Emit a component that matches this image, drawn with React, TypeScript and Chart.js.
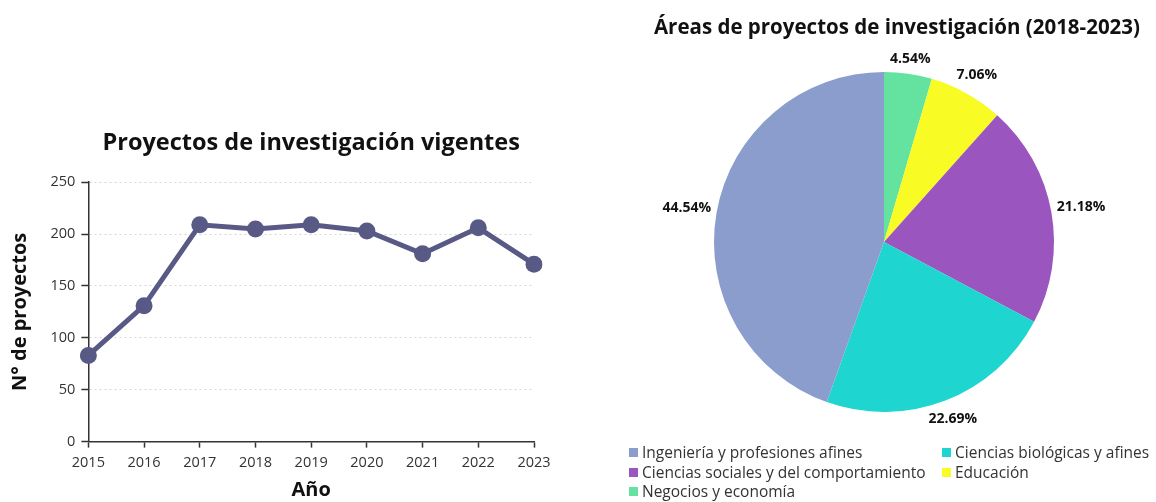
import React, { useEffect, useRef } from 'react';
import { Chart, registerables } from 'chart.js';

Chart.register(...registerables);

// ---- Data: line chart ----
const years = ['2015', '2016', '2017', '2018', '2019', '2020', '2021', '2022', '2023'];
const proyectos = [83, 131, 209, 205, 209, 203, 181, 206, 171];
const yMin = 0;
const yMax = 250;
const yStep = 50;

// ---- Data: pie chart (clockwise from 12 o'clock) ----
const areaLabels = [
  'Negocios y economía',
  'Educación',
  'Ciencias sociales y del comportamiento',
  'Ciencias biológicas y afines',
  'Ingeniería y profesiones afines',
];
const areaValues = [4.54, 7.06, 21.18, 22.69, 44.54];
const legendOrder = [4, 3, 2, 1, 0];

// ---- Styles ----
const areaColors = ['#64e2a0', '#f9fc24', '#9a55be', '#1fd5d0', '#8b9dcd'];
const LINE = '#585a85';
const FONT = "'Open Sans', 'Noto Sans', sans-serif";

const pctLabelPlugin = {
  id: 'pctLabels',
  afterDatasetsDraw(chart: any) {
    const meta = chart.getDatasetMeta(0);
    const ctx = chart.ctx;
    ctx.save();
    ctx.font = `bold 14px ${FONT}`;
    ctx.fillStyle = '#111';
    ctx.textAlign = 'center';
    ctx.textBaseline = 'middle';
    meta.data.forEach((arc: any, i: number) => {
      const { x, y, startAngle, endAngle, outerRadius } = arc;
      const mid = (startAngle + endAngle) / 2;
      const dx = Math.cos(mid);
      const dy = Math.sin(mid);
      const txt = areaValues[i].toFixed(2) + '%';
      const w = ctx.measureText(txt).width;
      const h = 14;
      const d = outerRadius + 5 + Math.abs(dx) * w / 2 + Math.abs(dy) * h / 2;
      ctx.fillText(txt, x + dx * d, y + dy * d);
    });
    ctx.restore();
  },
};

function LineChart() {
  const ref = useRef<HTMLCanvasElement>(null);
  useEffect(() => {
    const chart = new Chart(ref.current as HTMLCanvasElement, {
      type: 'line',
      data: {
        labels: years,
        datasets: [
          {
            data: proyectos,
            borderColor: LINE,
            backgroundColor: LINE,
            borderWidth: 5,
            pointRadius: 8.5,
            pointBackgroundColor: LINE,
            pointBorderColor: LINE,
            pointBorderWidth: 0,
            tension: 0,
          },
        ],
      },
      options: {
        animation: false,
        responsive: false,
        layout: { padding: { left: 8, right: 46, top: 0, bottom: 0 } },
        plugins: {
          legend: { display: false },
          tooltip: { enabled: false },
          title: {
            display: true,
            fullSize: false,
            text: 'Proyectos de investigación vigentes',
            font: { family: FONT, size: 23.5, weight: 'bold' },
            color: '#111',
            padding: { top: 129, bottom: 25 },
          },
        },
        scales: {
          x: {
            offset: false,
            grid: {
              drawOnChartArea: false,
              drawTicks: true,
              tickLength: 6,
              tickColor: '#333',
              tickWidth: 1.5,
              tickBorderDash: [],
            },
            border: { color: '#333', width: 1.5 },
            ticks: { font: { family: FONT, size: 14.5 }, color: '#333', padding: 6.5, maxRotation: 0 },
            title: {
              display: true,
              text: 'Año',
              font: { family: FONT, size: 20, weight: 'bold' },
              color: '#111',
              padding: { top: 0, bottom: 0 },
            },
          },
          y: {
            min: yMin,
            max: yMax,
            grid: {
              color: '#d6d6d6',
              lineWidth: 1,
              drawTicks: true,
              tickLength: 7,
              tickColor: '#333',
              tickWidth: 1.5,
              tickBorderDash: [],
            },
            border: { color: '#333', width: 1.5, dash: [2, 3] },
            ticks: { stepSize: yStep, font: { family: FONT, size: 14.5 }, color: '#333', padding: 6 },
            title: {
              display: true,
              text: 'N° de proyectos',
              font: { family: FONT, size: 20, weight: 'bold' },
              color: '#111',
              padding: { top: 0, bottom: 12.5 },
            },
          },
        },
      },
    } as any);
    return () => chart.destroy();
  }, []);
  return <canvas ref={ref} width={580} height={502} style={{ position: 'absolute', left: 0, top: 0, width: 580, height: 502 }} />;
}

function PieChart() {
  const ref = useRef<HTMLCanvasElement>(null);
  useEffect(() => {
    const chart = new Chart(ref.current as HTMLCanvasElement, {
      type: 'pie',
      data: {
        labels: areaLabels,
        datasets: [{ data: areaValues, backgroundColor: areaColors, borderWidth: 0 }],
      },
      options: {
        animation: false,
        responsive: false,
        rotation: 0,
        layout: { padding: { left: 28, right: 16, top: 0, bottom: 90 } },
        plugins: {
          legend: { display: false },
          tooltip: { enabled: false },
          title: {
            display: true,
            align: 'end',
            text: 'Áreas de proyectos de investigación (2018-2023)',
            font: { family: FONT, size: 20.5, weight: 'bold' },
            color: '#111',
            padding: { top: 15.5, bottom: 31.9 },
          },
        },
      },
      plugins: [pctLabelPlugin],
    } as any);
    return () => chart.destroy();
  }, []);
  return <canvas ref={ref} width={556} height={502} style={{ position: 'absolute', left: 600, top: 0, width: 556, height: 502 }} />;
}

function Legend() {
  return (
    <div
      style={{
        position: 'absolute',
        left: 629,
        top: 443,
        display: 'grid',
        gridTemplateColumns: '313px auto',
        gridAutoRows: '19.5px',
        fontFamily: FONT,
        fontSize: 15.5,
        color: '#333',
        lineHeight: '19.5px',
        whiteSpace: 'nowrap',
      }}
    >
      {legendOrder.map((i) => (
        <div key={i} style={{ display: 'flex', alignItems: 'center' }}>
          <span style={{ display: 'inline-block', width: 9, height: 9, background: areaColors[i], marginRight: 4 }} />
          <span>{areaLabels[i]}</span>
        </div>
      ))}
    </div>
  );
}

export default function App() {
  return (
    <div style={{ position: 'absolute', left: 0, top: 0, width: 1156, height: 502, background: '#fff', overflow: 'hidden' }}>
      <LineChart />
      <PieChart />
      <Legend />
    </div>
  );
}
